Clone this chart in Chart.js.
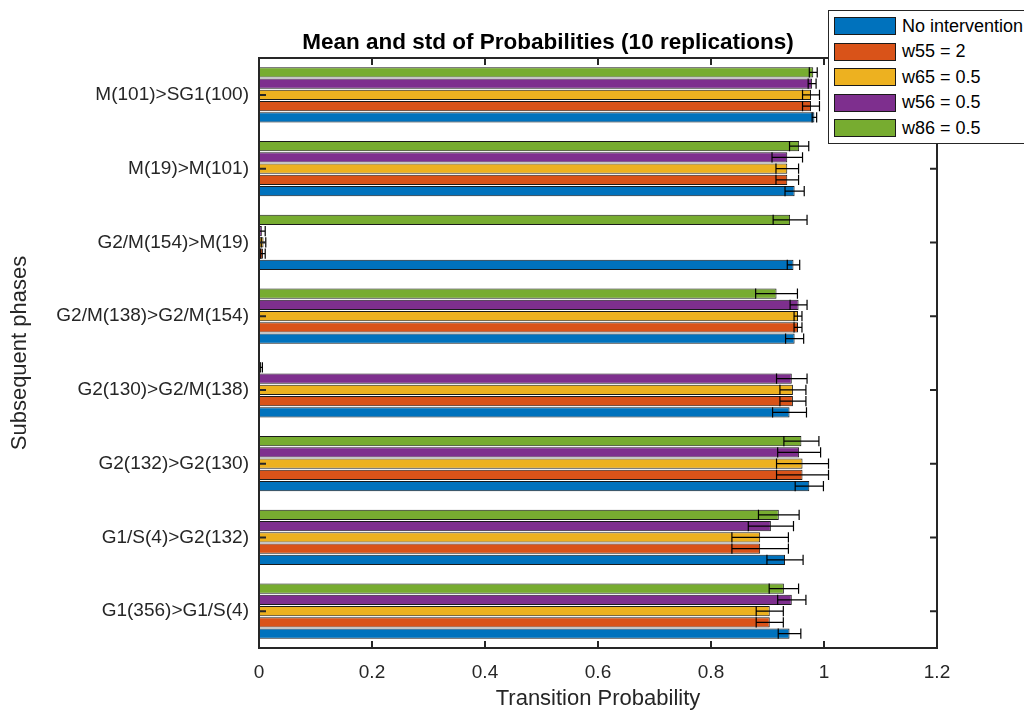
<!DOCTYPE html>
<html>
<head>
<meta charset="utf-8">
<script src="https://cdn.jsdelivr.net/npm/chart.js@4.4.0/dist/chart.umd.min.js"></script>
<style>
  html, body { margin: 0; padding: 0; background: #fff; overflow: hidden; }
  #wrap { position: relative; width: 1024px; height: 712px; }
  #legend {
    position: absolute; left: 828px; top: 10px; width: 230px; height: 132px;
    border: 1px solid #262626; background: #fff;
    font-family: "Liberation Sans", Arial, sans-serif; font-size: 18px; color: #000;
  }
  .row { position: absolute; left: 5px; height: 18px; display: flex; align-items: center; white-space: nowrap; }
  .sw { width: 60px; height: 16px; border: 1px solid #1a1a1a; margin-right: 6px; }
</style>
</head>
<body>
<div id="wrap">
  <canvas id="myChart" width="1024" height="712"></canvas>
  <div id="legend"></div>
</div>
<script>
const titleText = 'Mean and std of Probabilities (10 replications)';

const categories = [
  'M(101)>SG1(100)',
  'M(19)>M(101)',
  'G2/M(154)>M(19)',
  'G2/M(138)>G2/M(154)',
  'G2(130)>G2/M(138)',
  'G2(132)>G2(130)',
  'G1/S(4)>G2(132)',
  'G1(356)>G1/S(4)'
];

const seriesNames = ['No intervention', 'w55 = 2', 'w65 = 0.5', 'w56 = 0.5', 'w86 = 0.5'];
const seriesColors = ['#0072BD', '#D95319', '#EDB120', '#7E2F8E', '#77AC30'];

const noInterventionMean = [0.983, 0.948, 0.946, 0.948, 0.939, 0.974, 0.931, 0.939];
const noInterventionStd  = [0.004, 0.017, 0.011, 0.016, 0.030, 0.025, 0.032, 0.020];
const w55Mean = [0.977, 0.935, 0.007, 0.954, 0.945, 0.962, 0.887, 0.904];
const w55Std  = [0.015, 0.020, 0.004, 0.007, 0.023, 0.046, 0.050, 0.024];
const w65Mean = [0.977, 0.935, 0.008, 0.954, 0.945, 0.962, 0.887, 0.904];
const w65Std  = [0.015, 0.020, 0.004, 0.007, 0.023, 0.046, 0.050, 0.024];
const w56Mean = [0.979, 0.935, 0.005, 0.955, 0.943, 0.956, 0.906, 0.943];
const w56Std  = [0.007, 0.027, 0.006, 0.015, 0.027, 0.038, 0.040, 0.025];
const w86Mean = [0.981, 0.956, 0.940, 0.916, 0.004, 0.960, 0.920, 0.929];
const w86Std  = [0.007, 0.017, 0.030, 0.037, 0.002, 0.031, 0.036, 0.026];

const xTicks = [0, 0.2, 0.4, 0.6, 0.8, 1, 1.2];
const xTickLabels = ['0', '0.2', '0.4', '0.6', '0.8', '1', '1.2'];

const means = [noInterventionMean, w55Mean, w65Mean, w56Mean, w86Mean];
const stds = [noInterventionStd, w55Std, w65Std, w56Std, w86Std];

// matlab barh puts series 1 at the bottom of each group -> feed datasets reversed
const order = [4, 3, 2, 1, 0];
const datasets = order.map(function (i) {
  return {
    label: seriesNames[i],
    data: means[i],
    errors: stds[i],
    backgroundColor: seriesColors[i],
    borderColor: '#1a1a1a',
    borderWidth: 1,
    borderSkipped: false,
    categoryPercentage: 0.76,
    barPercentage: 0.91,
  };
});

// legend (html, in original series order)
const legendEl = document.getElementById('legend');
seriesNames.forEach(function (name, i) {
  const row = document.createElement('div');
  row.className = 'row';
  row.style.top = (6 + i * 25.6) + 'px';
  row.innerHTML = '<div class="sw" style="background:' + seriesColors[i] + '"></div><span>' + name + '</span>';
  legendEl.appendChild(row);
});

const errorBars = {
  id: 'errorBars',
  afterDatasetsDraw(chart) {
    const ctx = chart.ctx, x = chart.scales.x, a = chart.chartArea;
    ctx.save();
    ctx.beginPath();
    ctx.rect(a.left, a.top, a.right - a.left, a.bottom - a.top);
    ctx.clip();
    ctx.strokeStyle = '#000';
    ctx.lineWidth = 1.2;
    chart.data.datasets.forEach(function (ds, di) {
      chart.getDatasetMeta(di).data.forEach(function (bar, j) {
        const lo = x.getPixelForValue(ds.data[j] - ds.errors[j]);
        const hi = x.getPixelForValue(ds.data[j] + ds.errors[j]);
        const h = bar.height / 2;
        ctx.beginPath();
        ctx.moveTo(lo, bar.y); ctx.lineTo(hi, bar.y);
        ctx.moveTo(lo, bar.y - h); ctx.lineTo(lo, bar.y + h);
        ctx.moveTo(hi, bar.y - h); ctx.lineTo(hi, bar.y + h);
        ctx.stroke();
      });
    });
    ctx.restore();
  }
};

const axesBox = {
  id: 'axesBox',
  afterDraw(chart) {
    const ctx = chart.ctx, a = chart.chartArea, sx = chart.scales.x, sy = chart.scales.y;
    const t = 7;
    ctx.save();
    ctx.strokeStyle = '#262626';
    ctx.lineWidth = 2;
    ctx.strokeRect(a.left, a.top, a.right - a.left, a.bottom - a.top);
    ctx.beginPath();
    sx.ticks.forEach(function (tk, i) {
      const px = sx.getPixelForTick(i);
      ctx.moveTo(px, a.bottom); ctx.lineTo(px, a.bottom - t);
      ctx.moveTo(px, a.top); ctx.lineTo(px, a.top + t);
    });
    sy.ticks.forEach(function (tk, i) {
      const py = sy.getPixelForTick(i);
      ctx.moveTo(a.left, py); ctx.lineTo(a.left + t, py);
      ctx.moveTo(a.right, py); ctx.lineTo(a.right - t, py);
    });
    ctx.stroke();
    ctx.fillStyle = '#000';
    ctx.font = 'bold 22.5px "Liberation Sans", Arial, sans-serif';
    ctx.textAlign = 'center';
    ctx.textBaseline = 'alphabetic';
    ctx.fillText(titleText, 548, 49);
    ctx.restore();
  }
};

Chart.defaults.font.family = '"Liberation Sans", Arial, sans-serif';
Chart.defaults.color = '#262626';

const ctx = document.getElementById('myChart').getContext('2d');
new Chart(ctx, {
  type: 'bar',
  data: {
    labels: categories,
    datasets: datasets,
  },
  plugins: [errorBars, axesBox],
  options: {
    indexAxis: 'y',
    responsive: false,
    devicePixelRatio: 1,
    animation: false,
    layout: {
      padding: { top: 58, right: 87, bottom: 0, left: 0 },
    },
    plugins: {
      legend: { display: false },
      tooltip: { enabled: false },
    },
    scales: {
      x: {
        type: 'linear',
        min: 0,
        max: 1.2,
        afterBuildTicks: function (scale) {
          scale.ticks = xTicks.map(function (v) { return { value: v }; });
        },
        afterFit: function (scale) { scale.height = 64; },
        grid: { display: false, drawTicks: false },
        border: { display: false },
        ticks: {
          padding: 13,
          font: { size: 19 },
          color: '#262626',
          callback: function (v, i) { return xTickLabels[i]; },
        },
        title: {
          display: true,
          text: 'Transition Probability',
          font: { size: 22 },
          color: '#262626',
          padding: { top: 0, bottom: 0 },
        },
      },
      y: {
        type: 'category',
        afterFit: function (scale) { scale.width = 259; },
        grid: { display: false, drawTicks: false },
        border: { display: false },
        ticks: {
          padding: 10,
          font: { size: 19 },
          color: '#262626',
        },
        title: {
          display: true,
          text: 'Subsequent phases',
          font: { size: 22 },
          color: '#262626',
          padding: { top: 7, bottom: 0 },
        },
      },
    },
  },
});
</script>
</body>
</html>
